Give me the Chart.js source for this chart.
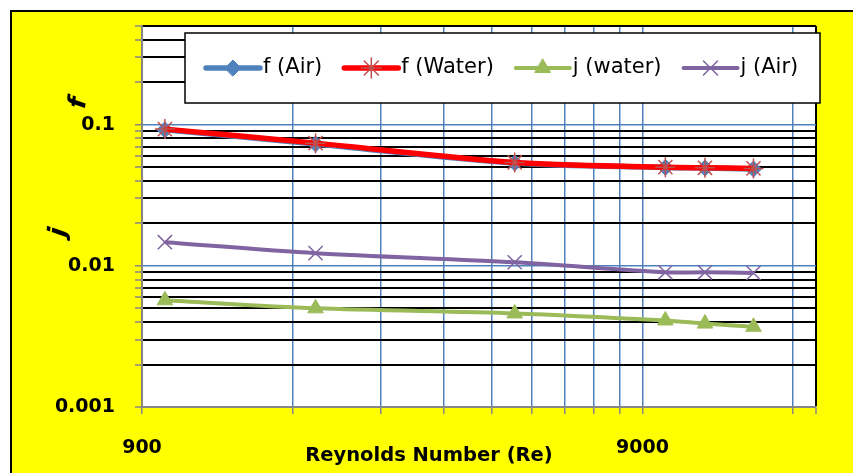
<!DOCTYPE html>
<html>
<head>
<meta charset="utf-8">
<script src="https://cdn.jsdelivr.net/npm/chart.js@4.4.0/dist/chart.umd.min.js"></script>
<style>
  html, body { margin: 0; padding: 0; background: #ffffff; }
  #wrap { width: 853px; height: 473px; position: relative; }
</style>
</head>
<body>
<div id="wrap"><canvas id="chart" width="853" height="473"></canvas></div>
<script>
// Reynolds numbers of the test points
const reynolds = [1000, 2000, 5000, 10000, 12000, 15000];

// Friction factor f and Colburn factor j for each fluid
const fAir   = [0.092, 0.073, 0.0535, 0.0498, 0.0493, 0.0485];
const fWater = [0.093, 0.074, 0.054, 0.050, 0.0495, 0.049];
const jWater = [0.0057, 0.0050, 0.0046, 0.0041, 0.0039, 0.0037];
const jAir   = [0.0147, 0.0123, 0.0106, 0.0090, 0.0090, 0.0089];

const seriesNames = ['f (Air)', 'f (Water)', 'j (water)', 'j (Air)'];

// Axis ranges and ticks (log scales)
const xMin = 900, xMax = 20000;
const xTickValues = [900, 1800, 2700, 3600, 4500, 5400, 6300, 7200, 8100, 9000, 18000];
const xLabelValues = [900, 9000];
const xLabelTexts  = ['900', '9000'];

const yMin = 0.001, yMax = 0.5;
const yTickValues = [
  0.001, 0.002, 0.003, 0.004, 0.005, 0.006, 0.007, 0.008, 0.009,
  0.01, 0.02, 0.03, 0.04, 0.05, 0.06, 0.07, 0.08, 0.09,
  0.1, 0.2, 0.3, 0.4, 0.5
];
const yLabelValues = [0.001, 0.01, 0.1];
const yLabelTexts  = ['0.001', '0.01', '0.1'];

const xTitle = 'Reynolds Number (Re)';
const yTitleF = 'f';
const yTitleJ = 'j';

const BLUE = '#4F81BD', RED = '#FF0000', RED_MARK = '#C0504D', GREEN = '#9BBB59', PURPLE = '#8064A2';
const GRID_BLUE = '#4F81BD', AXIS_GRAY = '#868686';
const FONT = '"DejaVu Sans", sans-serif';

function pts(values) {
  return reynolds.map((x, i) => ({ x: x, y: values[i] }));
}

// Yellow panel, border and white plot area
const backdrop = {
  id: 'backdrop',
  beforeDraw(chart) {
    const ctx = chart.ctx, a = chart.chartArea;
    ctx.save();
    ctx.fillStyle = '#ffffff';
    ctx.fillRect(0, 0, chart.width, chart.height);
    ctx.fillStyle = '#FFFF00';
    ctx.fillRect(11, 11, chart.width - 11, chart.height - 11);
    ctx.strokeStyle = '#000000';
    ctx.lineWidth = 2;
    ctx.beginPath();
    ctx.moveTo(11, chart.height);
    ctx.lineTo(11, 11);
    ctx.lineTo(chart.width, 11);
    ctx.stroke();
    ctx.fillStyle = '#ffffff';
    ctx.fillRect(a.left, a.top, a.right - a.left, a.bottom - a.top);
    ctx.restore();
  }
};

// Axis titles
const titles = {
  id: 'titles',
  afterDraw(chart) {
    const ctx = chart.ctx, a = chart.chartArea;
    ctx.save();
    ctx.fillStyle = '#000000';
    ctx.textAlign = 'center';
    ctx.textBaseline = 'middle';
    ctx.font = 'bold 19.5px ' + FONT;
    ctx.fillText(xTitle, a.left + 287, a.bottom + 49);

    ctx.font = 'italic bold 25px ' + FONT;
    const glyphs = [[yTitleJ, a.left - 83, a.top + 206], [yTitleF, a.left - 63, a.top + 77]];
    glyphs.forEach(([t, x, y]) => {
      ctx.save();
      ctx.translate(x, y);
      ctx.rotate(-82 * Math.PI / 180);
      ctx.fillText(t, 0, 0);
      ctx.restore();
    });
    ctx.restore();
  }
};

// Legend box with line + marker samples
const legendBox = {
  id: 'legendBox',
  afterDraw(chart) {
    const ctx = chart.ctx;
    const box = { x: 185, y: 33, w: 635, h: 70 };
    ctx.save();
    ctx.fillStyle = '#ffffff';
    ctx.fillRect(box.x, box.y, box.w, box.h);
    ctx.strokeStyle = '#000000';
    ctx.lineWidth = 1.5;
    ctx.strokeRect(box.x, box.y, box.w, box.h);

    ctx.font = '21px ' + FONT;
    ctx.textBaseline = 'middle';
    ctx.textAlign = 'left';
    const cy = box.y + box.h / 2;
    let x = box.x + 21;
    chart.data.datasets.forEach((ds) => {
      const lineLen = 54;
      ctx.strokeStyle = ds.borderColor;
      ctx.lineWidth = ds.borderWidth;
      ctx.lineCap = 'round';
      ctx.beginPath();
      ctx.moveTo(x, cy);
      ctx.lineTo(x + lineLen, cy);
      ctx.stroke();
      ctx.fillStyle = ds.pointBackgroundColor;
      ctx.strokeStyle = ds.pointBorderColor;
      ctx.lineWidth = ds.pointBorderWidth;
      Chart.helpers.drawPoint(ctx, {
        pointStyle: ds.pointStyle, radius: ds.pointRadius, rotation: 0, borderWidth: ds.pointBorderWidth
      }, x + lineLen / 2, cy);
      ctx.fillStyle = '#000000';
      ctx.fillText(ds.label, x + lineLen + 3, cy);
      x += lineLen + 3 + ctx.measureText(ds.label).width + 22;
    });
    ctx.restore();
  }
};

new Chart(document.getElementById('chart'), {
  type: 'line',
  data: {
    datasets: [
      {
        label: seriesNames[0], data: pts(fAir), order: 1,
        borderColor: BLUE, borderWidth: 5.5,
        pointStyle: 'rectRot', pointRadius: 8,
        pointBackgroundColor: BLUE, pointBorderColor: BLUE, pointBorderWidth: 1
      },
      {
        label: seriesNames[1], data: pts(fWater), order: 0,
        borderColor: RED, borderWidth: 5.5,
        pointStyle: 'star', pointRadius: 10,
        pointBackgroundColor: RED_MARK, pointBorderColor: RED_MARK, pointBorderWidth: 1.5
      },
      {
        label: seriesNames[2], data: pts(jWater), order: 2,
        borderColor: GREEN, borderWidth: 4,
        pointStyle: 'triangle', pointRadius: 9,
        pointBackgroundColor: GREEN, pointBorderColor: GREEN, pointBorderWidth: 1
      },
      {
        label: seriesNames[3], data: pts(jAir), order: 3,
        borderColor: PURPLE, borderWidth: 4,
        pointStyle: 'crossRot', pointRadius: 10,
        pointBackgroundColor: PURPLE, pointBorderColor: PURPLE, pointBorderWidth: 1.5
      }
    ]
  },
  options: {
    responsive: false,
    animation: false,
    devicePixelRatio: 1,
    tension: 0.3,
    layout: { padding: { left: 0, top: 26, right: 37, bottom: 0 } },
    plugins: { legend: { display: false }, tooltip: { enabled: false } },
    scales: {
      x: {
        type: 'logarithmic',
        min: xMin, max: xMax,
        afterBuildTicks(scale) {
          scale.ticks = xTickValues.concat([xMax]).map(v => ({ value: v }));
        },
        afterFit(scale) {
          scale.height = 66;
          scale.paddingLeft = 0;
          scale.paddingRight = 0;
        },
        grid: {
          color: ctx => (ctx.tick && ctx.tick.value === xMax) ? '#000000' : GRID_BLUE,
          lineWidth: ctx => (ctx.tick && ctx.tick.value === xMax) ? 2 : 1.5,
          tickColor: AXIS_GRAY,
          tickLength: 7,
          tickWidth: 1.5
        },
        border: { color: AXIS_GRAY, width: 2 },
        ticks: {
          autoSkip: false, maxRotation: 0, minRotation: 0,
          padding: 23,
          color: '#000000',
          font: { family: FONT, size: 19, weight: 'bold' },
          callback: (v) => {
            const i = xLabelValues.indexOf(v);
            return i >= 0 ? xLabelTexts[i] : '';
          }
        }
      },
      y: {
        type: 'logarithmic',
        min: yMin, max: yMax,
        afterBuildTicks(scale) {
          scale.ticks = yTickValues.map(v => ({ value: v }));
        },
        afterFit(scale) {
          scale.width = 142;
          scale.paddingTop = 0;
          scale.paddingBottom = 0;
        },
        grid: {
          color: ctx => {
            const v = ctx.tick && ctx.tick.value;
            if (v === 0.01 || v === 0.1) return GRID_BLUE;
            if (v === yMin) return AXIS_GRAY;
            return '#000000';
          },
          lineWidth: ctx => {
            const v = ctx.tick && ctx.tick.value;
            return (v === 0.01 || v === 0.1) ? 1.5 : 2;
          },
          tickColor: AXIS_GRAY,
          tickLength: 7,
          tickWidth: 1.5
        },
        border: { color: AXIS_GRAY, width: 2 },
        ticks: {
          autoSkip: false,
          padding: 20,
          color: '#000000',
          font: { family: FONT, size: 19, weight: 'bold' },
          callback: (v) => {
            const i = yLabelValues.indexOf(v);
            return i >= 0 ? yLabelTexts[i] : '';
          }
        }
      }
    }
  },
  plugins: [backdrop, titles, legendBox]
});
</script>
</body>
</html>
